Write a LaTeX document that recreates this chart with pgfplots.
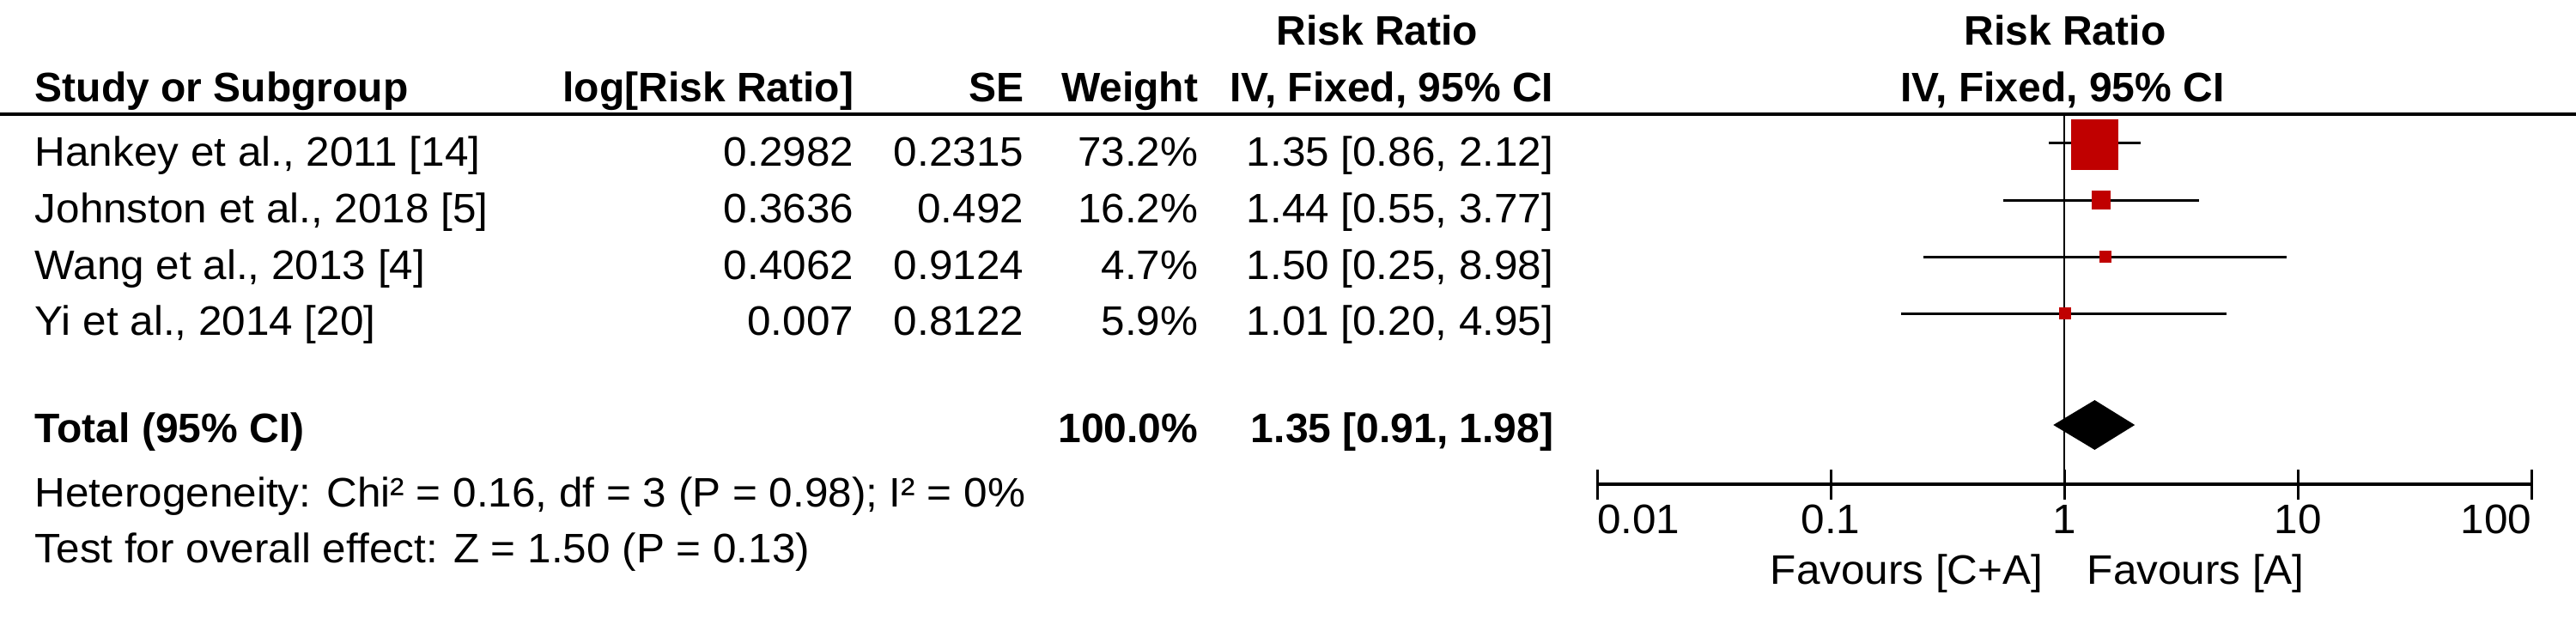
\documentclass[border=0pt]{standalone}
\usepackage{fontspec}
\setmainfont{Liberation Sans}[UprightFeatures={FakeStretch=1.03}]
\usepackage{pgfplots}
\pgfplotsset{compat=1.18}
\definecolor{rmred}{HTML}{C00000}
\begin{document}
\fontsize{12pt}{14pt}\selectfont
\begin{tikzpicture}
\useasboundingbox (0,0) rectangle (750pt,-182pt);
\begin{scope}[x=0.25pt,y=-0.25pt, every node/.style={inner sep=0pt}]
\draw[line width=0.8pt] (0,133) -- (3000,133);
% headers
\node[anchor=base east] at (1722,52) {\bfseries Risk Ratio};
\node[anchor=base] at (2405,52) {\bfseries Risk Ratio};
\node[anchor=base west] at (40,118) {\bfseries Study or Subgroup};
\node[anchor=base east] at (995,118) {\bfseries log[Risk Ratio]};
\node[anchor=base east] at (1193,118) {\bfseries SE};
\node[anchor=base east] at (1396,118) {\bfseries Weight};
\node[anchor=base east] at (1810,118) {\bfseries IV, Fixed, 95\% CI};
\node[anchor=base] at (2402,118) {\bfseries IV, Fixed, 95\% CI};
% rows
\node[anchor=base west] at (40,193) {Hankey et al., 2011 [14]};
\node[anchor=base east] at (995,193) {0.2982};
\node[anchor=base east] at (1193,193) {0.2315};
\node[anchor=base east] at (1396,193) {73.2\%};
\node[anchor=base east] at (1810,193) {1.35 [0.86, 2.12]};
\node[anchor=base west] at (40,259) {Johnston et al., 2018 [5]};
\node[anchor=base east] at (995,259) {0.3636};
\node[anchor=base east] at (1193,259) {0.492};
\node[anchor=base east] at (1396,259) {16.2\%};
\node[anchor=base east] at (1810,259) {1.44 [0.55, 3.77]};
\node[anchor=base west] at (40,325) {Wang et al., 2013 [4]};
\node[anchor=base east] at (995,325) {0.4062};
\node[anchor=base east] at (1193,325) {0.9124};
\node[anchor=base east] at (1396,325) {4.7\%};
\node[anchor=base east] at (1810,325) {1.50 [0.25, 8.98]};
\node[anchor=base west] at (40,390) {Yi et al., 2014 [20]};
\node[anchor=base east] at (995,390) {0.007};
\node[anchor=base east] at (1193,390) {0.8122};
\node[anchor=base east] at (1396,390) {5.9\%};
\node[anchor=base east] at (1810,390) {1.01 [0.20, 4.95]};
\node[anchor=base west] at (40,515) {\bfseries Total (95\% CI)};
\node[anchor=base east] at (1396,515) {\bfseries 100.0\%};
\node[anchor=base east] at (1810,515) {\bfseries 1.35 [0.91, 1.98]};
\node[anchor=base west] at (40,590) {Heterogeneity: Chi² = 0.16, df = 3 (P = 0.98); I² = 0\%};
\node[anchor=base west] at (40,655) {Test for overall effect: Z = 1.50 (P = 0.13)};
\node[anchor=base east] at (2380,680) {Favours [C+A]};
\node[anchor=base west] at (2430,680) {Favours [A]};
\end{scope}
\begin{axis}[
  at={(465pt,-141pt)}, anchor=south west,
  scale only axis, width=272pt, height=107.75pt,
  xmode=log, xmin=0.01, xmax=100, ymin=-564, ymax=-133,
  axis x line=bottom, axis y line=none,
  x axis line style={-, line width=0.9pt},
  xtick={0.01,0.1,1,10,100},
  xticklabels={\rlap{0.01},0.1,1,10,\llap{100}},
  xticklabel style={anchor=base, yshift=-10.1pt, inner sep=0pt},
  xminorticks=false,
  tick align=center, major tick length=8.75pt,
  tick style={line width=0.75pt, black},
  clip=false,
]
\addplot[black, line width=0.6pt] coordinates {(1,-133) (1,-564)};
% CIs
\addplot[black, line width=0.75pt] coordinates {(0.86,-166) (2.12,-166)};
\addplot[black, line width=0.75pt] coordinates {(0.55,-233) (3.77,-233)};
\addplot[black, line width=0.75pt] coordinates {(0.25,-299) (8.98,-299)};
\addplot[black, line width=0.75pt] coordinates {(0.20,-365) (4.95,-365)};
% squares
\addplot[only marks, mark=square*, mark size=6.6pt, rmred, mark options={draw=rmred, fill=rmred, yscale=1.075}] coordinates {(1.35,-168.5)};
\addplot[only marks, mark=square*, mark size=2.5pt, rmred, mark options={draw=rmred, fill=rmred}] coordinates {(1.44,-233)};
\addplot[only marks, mark=square*, mark size=1.5pt, rmred, mark options={draw=rmred, fill=rmred}] coordinates {(1.50,-299)};
\addplot[only marks, mark=square*, mark size=1.5pt, rmred, mark options={draw=rmred, fill=rmred}] coordinates {(1.01,-365)};
% diamond
\addplot[fill=black, draw=black] coordinates {(0.91,-495) (1.35,-467) (1.98,-495) (1.35,-523)} -- cycle;
\end{axis}
\end{tikzpicture}
\end{document}
